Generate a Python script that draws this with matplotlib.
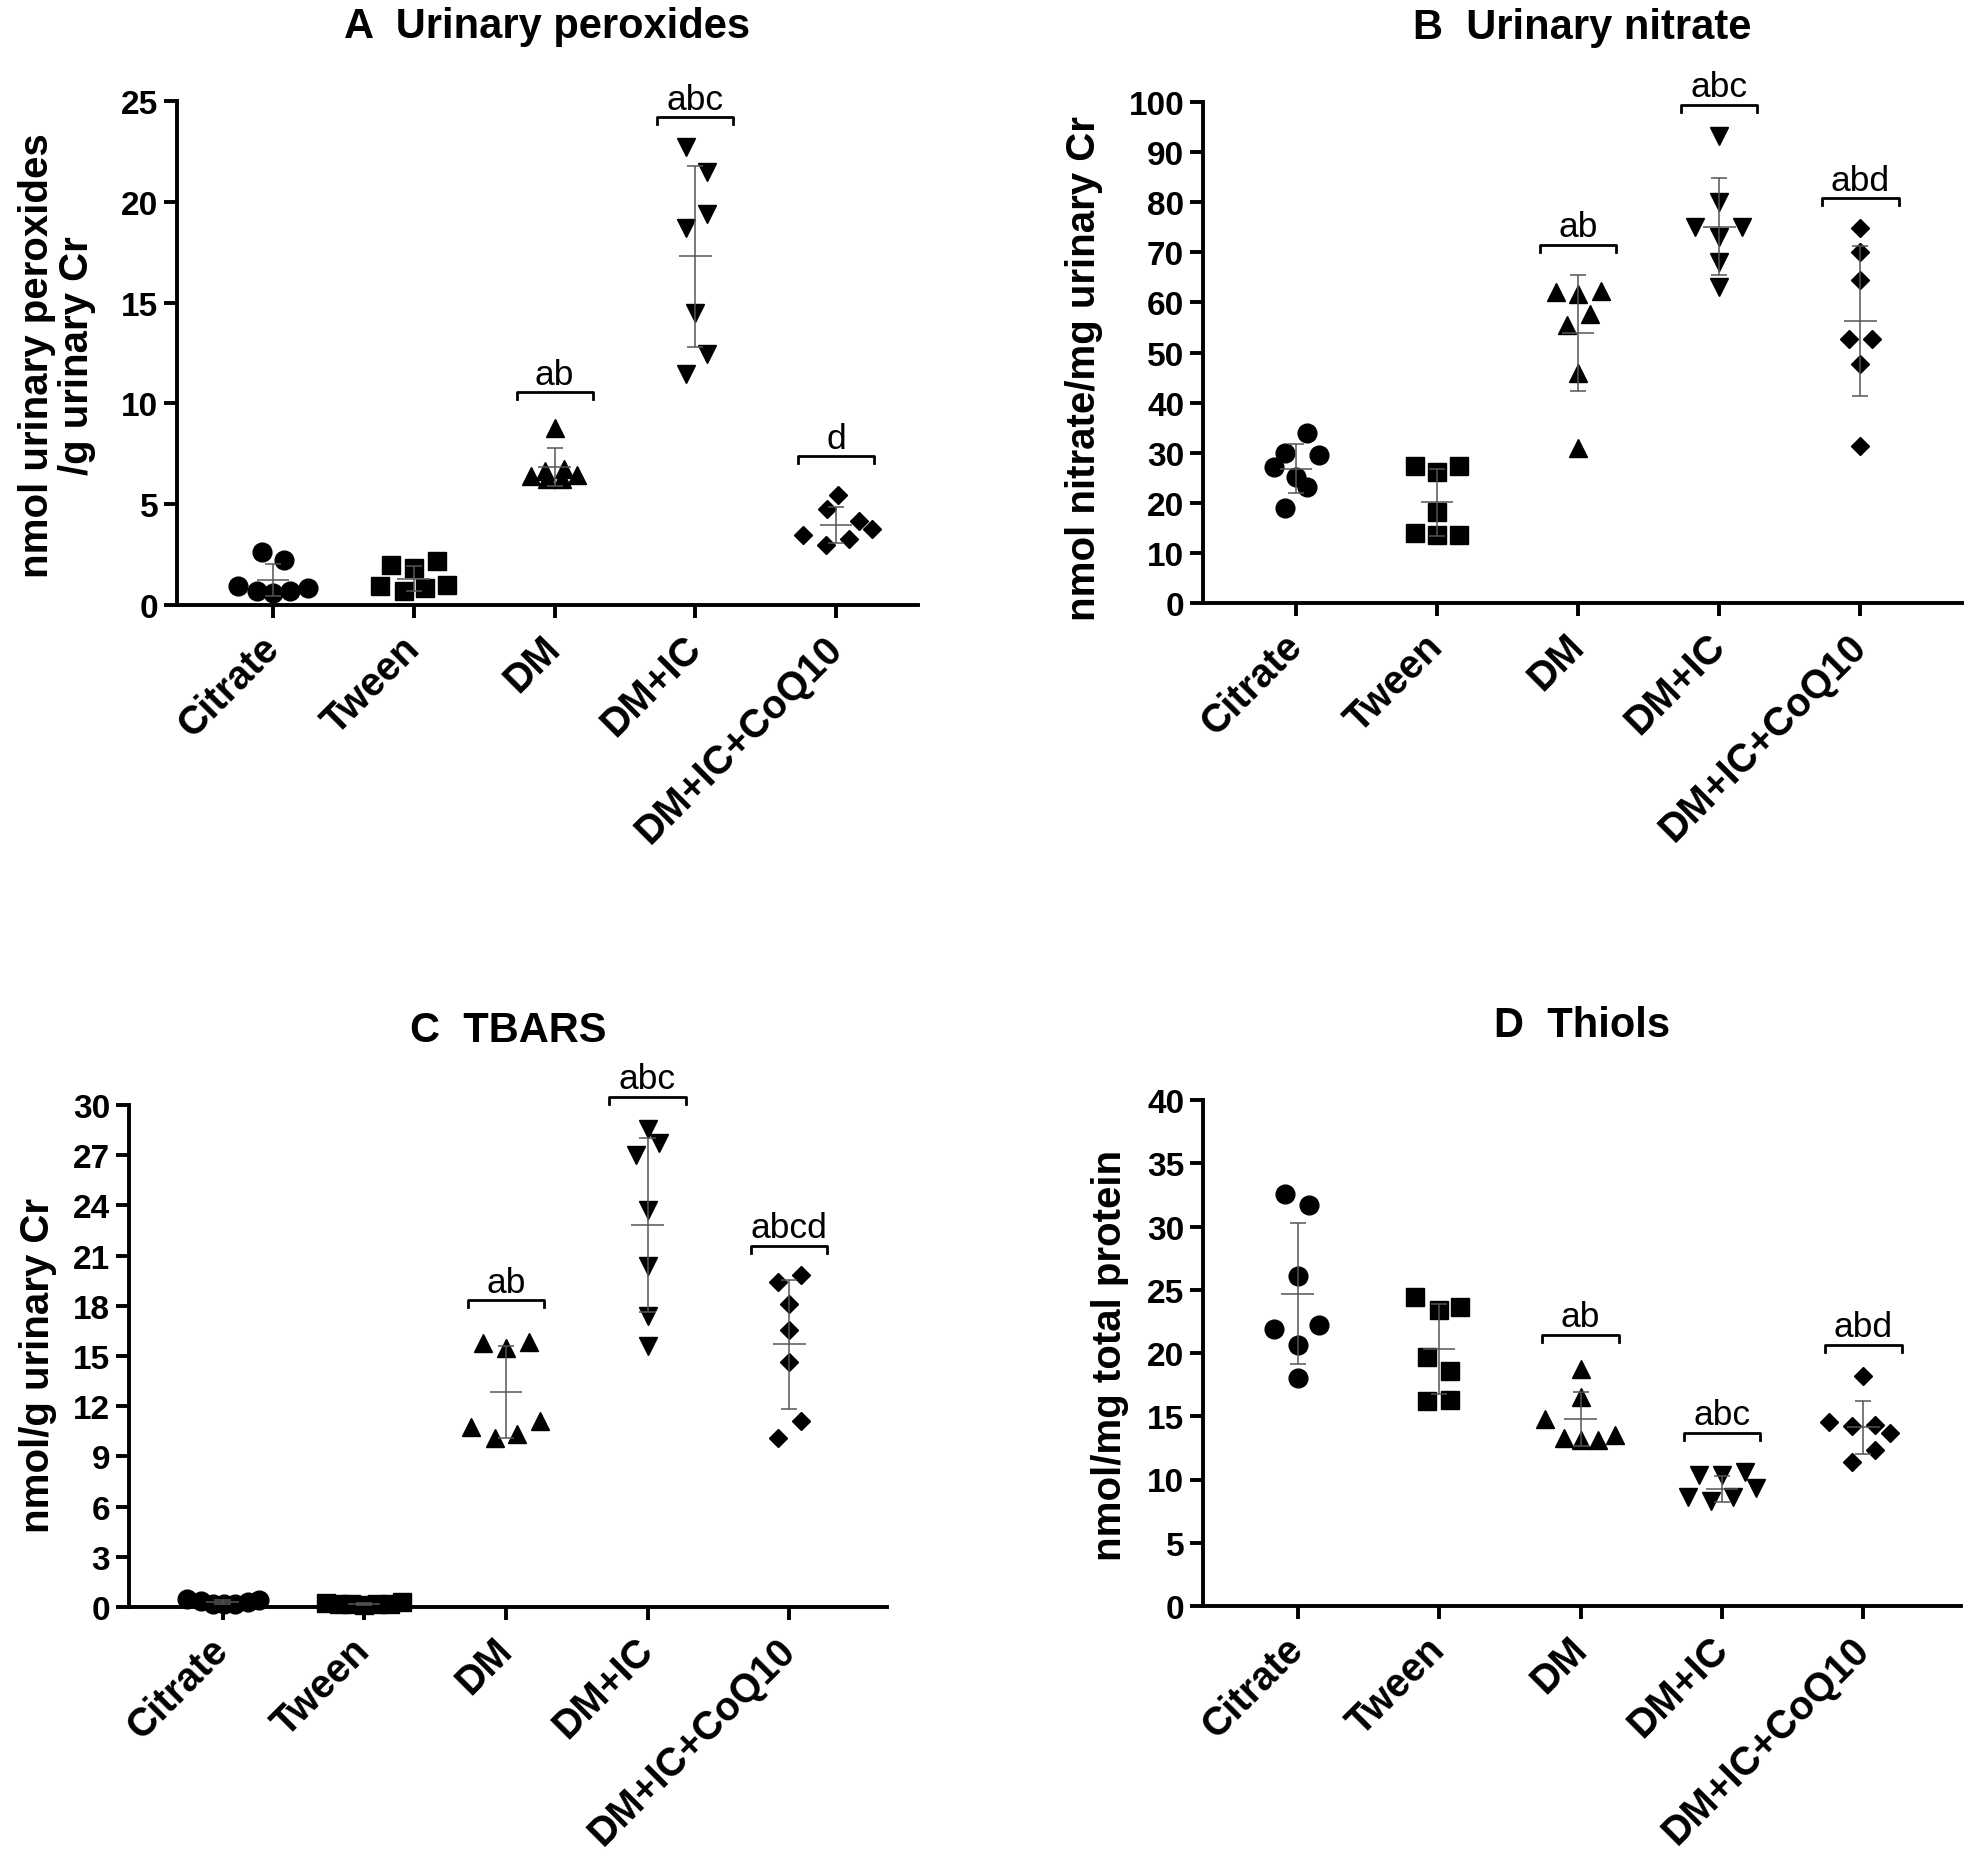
import matplotlib
matplotlib.use("Agg")
import matplotlib.pyplot as plt

plt.rcParams['font.family'] = ['Liberation Sans', 'DejaVu Sans']

groups = ['Citrate', 'Tween', 'DM', 'DM+IC', 'DM+IC+CoQ10']
markers = ['o', 's', '^', 'v', 'D']
msizes = [13.5, 12.5, 12.5, 12.5, 9]

# ---- A: urinary peroxides ----
perox_vals = [
    [2.62, 2.25, 0.94, 0.67, 0.62, 0.67, 0.85],
    [1.96, 1.82, 2.19, 0.92, 0.67, 0.85, 0.99],
    [8.8, 6.4, 6.67, 6.76, 6.44, 6.23, 6.23],
    [22.7, 21.5, 19.4, 18.7, 14.5, 12.45, 11.46],
    [5.48, 4.75, 4.18, 3.77, 3.47, 3.29, 2.99],
]
perox_jitter = [
    [-0.075, 0.08, -0.245, -0.11, 0.0, 0.12, 0.25],
    [-0.16, 0.0, 0.167, -0.24, -0.07, 0.077, 0.24],
    [0.0, -0.17, -0.07, 0.065, 0.16, -0.055, 0.05],
    [-0.07, 0.085, 0.085, -0.07, 0.0, 0.085, -0.07],
    [0.01, -0.065, 0.16, 0.25, -0.235, 0.09, -0.07],
]
perox_mean = [1.25, 1.3, 6.85, 17.3, 3.99]
perox_sd = [0.8, 0.62, 0.93, 4.48, 0.89]
perox_sig = [(2, 'ab', 10.57), (3, 'abc', 24.2), (4, 'd', 7.37)]

# ---- B: urinary nitrate ----
nitr_vals = [
    [34.0, 29.9, 29.5, 27.2, 25.1, 23.1, 18.9],
    [27.4, 27.4, 26.1, 18.1, 13.9, 13.5, 13.5],
    [62.0, 61.6, 62.3, 57.7, 55.5, 45.9, 31.0],
    [93.2, 80.1, 75.1, 75.1, 73.0, 68.0, 63.0],
    [74.9, 70.1, 64.4, 52.7, 52.7, 47.7, 31.3],
]
nitr_jitter = [
    [0.08, -0.08, 0.16, -0.16, 0.0, 0.08, -0.08],
    [-0.16, 0.155, 0.0, 0.0, -0.16, 0.0, 0.155],
    [-0.16, 0.0, 0.16, 0.08, -0.08, 0.0, 0.0],
    [0.0, 0.0, -0.17, 0.16, 0.0, 0.0, 0.0],
    [0.0, 0.0, 0.0, -0.08, 0.08, 0.0, 0.0],
]
nitr_mean = [26.8, 20.1, 53.9, 75.1, 56.3]
nitr_sd = [4.9, 6.7, 11.6, 9.7, 14.9]
nitr_sig = [(2, 'ab', 71.5), (3, 'abc', 99.5), (4, 'abd', 80.8)]

# ---- C: TBARS ----
tbars_vals = [
    [0.5, 0.35, 0.2, 0.15, 0.2, 0.3, 0.4],
    [0.25, 0.2, 0.15, 0.1, 0.15, 0.2, 0.3],
    [15.8, 15.46, 15.86, 10.76, 10.09, 10.36, 11.09],
    [28.57, 27.7, 27.0, 23.7, 20.4, 17.4, 15.6],
    [19.85, 19.45, 18.08, 16.57, 14.64, 11.09, 10.09],
]
tbars_jitter = [
    [-0.25, -0.15, -0.07, 0.01, 0.09, 0.18, 0.26],
    [-0.27, -0.18, -0.09, 0.0, 0.09, 0.18, 0.27],
    [-0.16, 0.0, 0.16, -0.245, -0.08, 0.08, 0.24],
    [0.0, 0.08, -0.08, 0.0, 0.0, 0.0, 0.0],
    [0.08, -0.08, 0.0, 0.0, 0.0, 0.08, -0.08],
]
tbars_mean = [0.3, 0.19, 12.87, 22.85, 15.7]
tbars_sd = [0.13, 0.07, 2.75, 5.2, 3.87]
tbars_sig = [(2, 'ab', 18.35), (3, 'abc', 30.5), (4, 'abcd', 21.6)]

# ---- D: thiols ----
thiol_vals = [
    [32.6, 31.7, 26.1, 22.2, 21.9, 20.6, 18.0],
    [24.4, 23.4, 23.6, 19.7, 18.6, 16.2, 16.25],
    [18.75, 16.5, 14.8, 13.5, 13.3, 13.1, 13.1],
    [10.37, 10.37, 10.58, 9.34, 8.6, 8.3, 8.6],
    [18.16, 14.55, 14.2, 14.34, 13.67, 12.37, 11.4],
]
thiol_jitter = [
    [-0.087, 0.08, 0.0, 0.15, -0.167, 0.0, 0.0],
    [-0.17, 0.0, 0.147, -0.083, 0.075, -0.083, 0.075],
    [0.0, 0.0, -0.25, 0.246, -0.12, 0.0, 0.12],
    [-0.16, 0.0, 0.16, 0.24, -0.24, -0.08, 0.08],
    [0.0, -0.24, -0.08, 0.08, 0.187, 0.08, -0.08],
]
thiol_mean = [24.7, 20.3, 14.78, 9.26, 14.13]
thiol_sd = [5.6, 3.55, 2.1, 1.03, 2.1]
thiol_sig = [(2, 'ab', 21.45), (3, 'abc', 13.7), (4, 'abd', 20.66)]

W, H = 1972, 1858
fig = plt.figure(figsize=(W / 100, H / 100), dpi=100)


def px_axes(x0, x1, y_top, y_bot):
    return fig.add_axes([x0 / W, 1 - y_bot / H, (x1 - x0) / W, (y_bot - y_top) / H])


def panel(ax, title, ylabel, vals, jitter, mean, sd, sig, ymax, ystep, xlim, lab_xy):
    for i in range(5):
        xs = [i + j for j in jitter[i]]
        ax.plot(xs, vals[i], linestyle='none', marker=markers[i], ms=msizes[i],
                color='black', clip_on=False, zorder=3)
        # mean +/- SD
        ax.vlines(i, mean[i] - sd[i], mean[i] + sd[i], color='#555555', lw=1.1, zorder=4)
        ax.hlines([mean[i] - sd[i], mean[i] + sd[i]], i - 0.057, i + 0.057,
                  color='#555555', lw=1.1, zorder=4)
        ax.hlines(mean[i], i - 0.115, i + 0.115, color='#555555', lw=1.1, zorder=4)

    arm = 0.014 * ymax
    for gi, txt, yb in sig:
        ax.plot([gi - 0.27, gi - 0.27, gi + 0.27, gi + 0.27], [yb - arm, yb, yb, yb - arm],
                color='black', lw=2.0, clip_on=False)
        ax.annotate(txt, (gi, yb), xytext=(0, 6), textcoords='offset points',
                    ha='center', va='baseline', fontsize=25.5, annotation_clip=False)

    ax.set_xlim(*xlim)
    ax.set_ylim(0, ymax)
    ax.set_yticks([ystep * k for k in range(int(round(ymax / ystep)) + 1)])
    ax.set_xticks(range(5))
    ax.set_xticklabels(groups, rotation=45, ha='right', va='center',
                       rotation_mode='anchor', fontsize=28.5, fontweight='bold')
    for lab in ax.get_yticklabels():
        lab.set_fontsize(24)
        lab.set_fontweight('bold')
    ax.tick_params(axis='both', length=9.5, width=2.8, color='black')
    ax.tick_params(axis='x', pad=17)
    ax.tick_params(axis='y', pad=4)
    for s in ['top', 'right']:
        ax.spines[s].set_visible(False)
    for s in ['left', 'bottom']:
        ax.spines[s].set_linewidth(2.8)
    ax.set_title(title, fontsize=30, fontweight='bold', pad=46)
    ax.set_ylabel(ylabel, fontsize=29, fontweight='bold', linespacing=1.05)
    ax.yaxis.label.set_va('center')
    ax.yaxis.set_label_coords(*lab_xy)


axA = px_axes(177, 918, 102, 606)
panel(axA, 'A  Urinary peroxides', 'nmol urinary peroxides\n/g urinary Cr',
      perox_vals, perox_jitter, perox_mean, perox_sd, perox_sig, 25, 5,
      (-0.68, 4.58), (-0.162, 0.496))

axB = px_axes(1203, 1962, 103, 604)
panel(axB, 'B  Urinary nitrate', 'nmol nitrate/mg urinary Cr',
      nitr_vals, nitr_jitter, nitr_mean, nitr_sd, nitr_sig, 100, 10,
      (-0.66, 4.72), (-0.157, 0.47))

axC = px_axes(129, 887, 1106, 1608)
panel(axC, 'C  TBARS', 'nmol/g urinary Cr',
      tbars_vals, tbars_jitter, tbars_mean, tbars_sd, tbars_sig, 30, 3,
      (-0.66, 4.69), (-0.12, 0.484))

axD = px_axes(1203, 1961, 1101, 1607)
panel(axD, 'D  Thiols', 'nmol/mg total protein',
      thiol_vals, thiol_jitter, thiol_mean, thiol_sd, thiol_sig, 40, 5,
      (-0.67, 4.69), (-0.123, 0.498))

fig.savefig('out.png', dpi=100)
